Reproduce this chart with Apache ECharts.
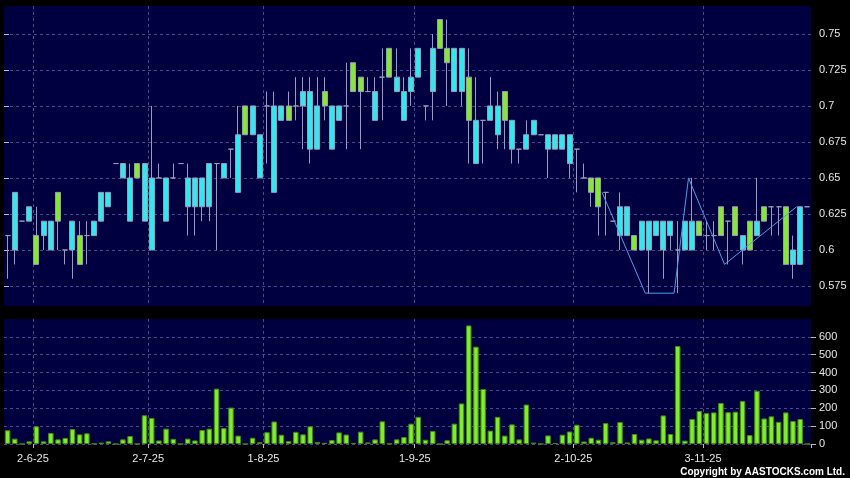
<!DOCTYPE html>
<html>
<head>
<meta charset="utf-8">
<script src="https://cdn.jsdelivr.net/npm/echarts@6/dist/echarts.min.js"></script>
<style>
html, body { margin: 0; padding: 0; background: #000; }
#chart { width: 850px; height: 478px; }
</style>
</head>
<body>
<div id="chart"></div>
<script>
// daily bars, index 0..111 (last slot is a no-trade day)
var opens = [
  0.61,0.60,0.62,0.62,0.61,0.61,0.60,0.64,0.60,0.60,0.61,0.61,0.61,0.62,0.63,0.66,0.65,0.62,0.66,0.62,
  0.60,0.65,0.62,0.65,0.66,0.63,0.63,0.63,0.63,0.66,0.65,0.67,0.64,0.70,0.68,0.65,0.70,0.64,0.69,0.70,
  0.70,0.70,0.67,0.67,0.71,0.67,0.69,0.70,0.73,0.72,0.71,0.69,0.72,0.74,0.71,0.69,0.71,0.72,0.70,0.71,
  0.76,0.74,0.71,0.71,0.72,0.66,0.69,0.69,0.68,0.71,0.67,0.67,0.67,0.68,0.68,0.67,0.67,0.67,0.66,0.67,
  0.65,0.65,0.65,0.64,0.62,0.61,0.61,0.61,0.60,0.60,0.61,0.60,0.61,0.60,0.60,0.60,0.62,0.61,0.61,0.63,
  0.62,0.63,0.60,0.62,0.61,0.63,0.63,0.63,0.63,0.59,0.59,0.63
];
var closes = [
  0.61,0.64,0.62,0.63,0.59,0.62,0.62,0.62,0.60,0.62,0.59,0.61,0.62,0.64,0.64,0.66,0.66,0.65,0.65,0.66,
  0.65,0.65,0.65,0.65,0.66,0.65,0.65,0.65,0.66,0.66,0.66,0.67,0.68,0.68,0.70,0.68,0.70,0.70,0.70,0.69,
  0.70,0.71,0.71,0.70,0.70,0.70,0.70,0.70,0.71,0.71,0.71,0.71,0.72,0.72,0.72,0.71,0.72,0.74,0.70,0.74,
  0.74,0.73,0.74,0.74,0.69,0.69,0.69,0.70,0.70,0.69,0.69,0.67,0.68,0.69,0.68,0.68,0.68,0.68,0.68,0.67,
  0.65,0.64,0.63,0.64,0.62,0.63,0.63,0.60,0.62,0.62,0.62,0.62,0.62,0.60,0.62,0.62,0.61,0.61,0.61,0.61,
  0.62,0.61,0.61,0.60,0.62,0.62,0.63,0.63,0.59,0.60,0.63,0.63
];
var lows = [
  0.58,0.59,0.62,0.62,0.59,0.60,0.60,0.60,0.59,0.58,0.59,0.59,0.61,0.62,0.63,0.66,0.65,0.62,0.65,0.62,
  0.60,0.65,0.62,0.65,0.66,0.61,0.61,0.62,0.62,0.60,0.65,0.65,0.64,0.68,0.68,0.65,0.66,0.64,0.69,0.69,
  0.69,0.67,0.66,0.67,0.69,0.67,0.69,0.67,0.71,0.67,0.71,0.69,0.69,0.72,0.71,0.69,0.70,0.72,0.69,0.69,
  0.74,0.70,0.71,0.70,0.66,0.66,0.66,0.69,0.67,0.67,0.66,0.66,0.67,0.68,0.68,0.65,0.67,0.67,0.65,0.64,
  0.65,0.63,0.61,0.61,0.62,0.60,0.61,0.60,0.60,0.57,0.61,0.58,0.60,0.57,0.60,0.60,0.61,0.60,0.60,0.61,
  0.59,0.61,0.59,0.60,0.61,0.62,0.61,0.61,0.59,0.58,0.59,0.63
];
var highs = [
  0.61,0.64,0.62,0.63,0.63,0.62,0.62,0.64,0.60,0.62,0.62,0.62,0.62,0.64,0.64,0.66,0.66,0.66,0.66,0.66,
  0.70,0.66,0.65,0.66,0.66,0.66,0.65,0.65,0.66,0.66,0.66,0.67,0.70,0.70,0.70,0.68,0.71,0.71,0.70,0.71,
  0.72,0.72,0.72,0.72,0.72,0.70,0.70,0.73,0.73,0.72,0.72,0.72,0.74,0.74,0.74,0.72,0.74,0.74,0.70,0.75,
  0.76,0.76,0.74,0.74,0.74,0.72,0.69,0.72,0.71,0.71,0.69,0.67,0.69,0.69,0.68,0.68,0.68,0.68,0.68,0.67,
  0.66,0.65,0.65,0.64,0.62,0.64,0.63,0.61,0.62,0.62,0.62,0.62,0.62,0.62,0.62,0.65,0.62,0.62,0.62,0.63,
  0.62,0.63,0.61,0.62,0.65,0.63,0.63,0.63,0.63,0.61,0.63,0.63
];
var volumes = [
  77,30,0,15,99,15,62,26,34,84,54,60,2,8,15,0,26,45,0,161,
  146,20,86,29,0,30,20,78,86,310,89,204,47,0,35,10,66,126,52,16,
  68,54,99,11,7,22,65,53,6,69,9,26,127,2,26,39,114,152,24,73,
  0,21,114,227,664,545,308,75,152,47,110,26,221,8,0,48,5,52,70,108,
  14,35,24,117,10,123,9,56,24,31,21,160,56,549,19,140,185,173,177,230,
  178,181,241,50,298,143,155,124,177,129,140,0
];
// first trading day of each month -> bar index
var monthStarts = { 4: '2-6-25', 20: '2-7-25', 36: '1-8-25', 57: '1-9-25', 79: '2-10-25', 97: '3-11-25' };
var priceTicks = [0.575, 0.6, 0.625, 0.65, 0.675, 0.7, 0.725, 0.75];
// zigzag turning points [bar index, price]
var zigzag = [[83, 0.64], [89, 0.57], [93, 0.57], [95, 0.65], [100, 0.59], [110, 0.63]];

var days = [];
var candles = [];
for (var i = 0; i < opens.length; i++) {
  days.push(monthStarts[i] || '');
  candles.push([opens[i], closes[i], lows[i], highs[i]]);
}
var isMonth = function (idx) { return !!monthStarts[idx]; };

var NAVY = '#000040';
var GRIDC = '#4a4a88';
var TXT = '#e6e6e6';
var WICK = '#9a9abc';

var chart = echarts.init(document.getElementById('chart'));
chart.setOption({
  backgroundColor: '#000',
  animation: false,
  grid: [
    { left: 4, top: 6, width: 807, height: 300, show: true, backgroundColor: NAVY, borderWidth: 0 },
    { left: 4, top: 319, width: 807, height: 125, show: true, backgroundColor: NAVY, borderWidth: 0 }
  ],
  xAxis: [
    {
      type: 'category', gridIndex: 0, data: days, boundaryGap: true,
      axisLine: { show: false }, axisTick: { show: false }, axisLabel: { show: false },
      splitLine: { show: true, interval: isMonth, showMaxLine: false,
        lineStyle: { color: GRIDC, type: [3, 3], width: 1 } }
    },
    {
      type: 'category', gridIndex: 1, data: days, boundaryGap: true,
      axisLine: { show: false },
      axisTick: { show: true, interval: isMonth, length: 4, lineStyle: { color: '#bbbbbb' } },
      axisLabel: { show: true, interval: isMonth, color: TXT, fontSize: 11, margin: 9,
        fontFamily: 'Liberation Sans', padding: [0, 7, 0, 0] },
      splitLine: { show: true, interval: isMonth, showMaxLine: false,
        lineStyle: { color: GRIDC, type: [3, 3], width: 1 } }
    },
    { type: 'value', gridIndex: 0, min: 0, max: opens.length, show: false }
  ],
  yAxis: [
    {
      type: 'value', gridIndex: 0, position: 'right', min: 0.5611, max: 0.7694, scale: true,
      axisLine: { show: false },
      axisTick: { show: true, length: 5, customValues: priceTicks, lineStyle: { color: '#bbbbbb' } },
      axisLabel: { color: TXT, fontSize: 11, margin: 8, fontFamily: 'Liberation Sans',
        customValues: priceTicks },
      splitLine: { show: true, lineStyle: { color: GRIDC, type: [3, 3], width: 1 } }
    },
    {
      type: 'value', gridIndex: 1, position: 'right', min: 0, max: 700, interval: 100,
      axisLine: { show: false },
      axisTick: { show: true, length: 5, lineStyle: { color: '#bbbbbb' } },
      axisLabel: { color: TXT, fontSize: 11, margin: 8, fontFamily: 'Liberation Sans', showMaxLabel: false },
      splitLine: { show: true, showMaxLine: false, lineStyle: { color: GRIDC, type: [3, 3], width: 1 } }
    }
  ],
  series: [
    {
      type: 'candlestick', xAxisIndex: 0, yAxisIndex: 0, data: candles, barWidth: 5.5,
      itemStyle: {
        color: '#22f0f0', color0: '#7ff01e',
        borderColor: WICK, borderColor0: WICK, borderColorDoji: WICK, borderWidth: 1
      }
    },
    {
      type: 'line', xAxisIndex: 2, yAxisIndex: 0, data: zigzag, symbol: 'none', z: 5,
      lineStyle: { color: '#4aa0e6', width: 1 }
    },
    {
      type: 'bar', xAxisIndex: 1, yAxisIndex: 1, data: volumes, barWidth: 5.5,
      itemStyle: { color: '#7ef01a', borderColor: '#3f8a14', borderWidth: 1 }
    }
  ],
  graphic: [
    { type: 'text', right: 5, bottom: 1,
      style: { text: 'Copyright by AASTOCKS.com Ltd.', fill: '#ffffff',
        font: 'bold 10px "Liberation Sans"' } }
  ]
});
</script>
</body>
</html>
